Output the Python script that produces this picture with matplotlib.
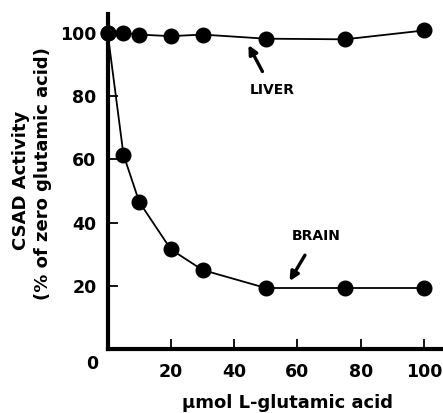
import matplotlib.pyplot as plt
import numpy as np

# umol L-glutamic acid
conc = [0, 5, 10, 20, 30, 50, 75, 100]
liver = [100, 100, 99.5, 99, 99.5, 98.2, 98, 100.8]
brain = [100, 61.5, 46.5, 31.5, 25, 19.3, 19.3, 19.3]
xticks = [20, 40, 60, 80, 100]
yticks = [20, 40, 60, 80, 100]

plt.rcParams['font.family'] = 'DejaVu Sans'
plt.rcParams['font.weight'] = 'bold'

fig = plt.figure(figsize=(4.43, 4.13), dpi=100)
ax = fig.add_axes([0.243, 0.155, 0.757, 0.811])

ax.plot(conc, liver, color='black', lw=1.3, marker='o', ms=10.5, clip_on=False, zorder=3)
ax.plot(conc, brain, color='black', lw=1.3, marker='o', ms=10.5, clip_on=False, zorder=3)

ax.set_xlim(0, 106)
ax.set_ylim(0, 106)

for s in ['top', 'right']:
    ax.spines[s].set_visible(False)
for s in ['left', 'bottom']:
    ax.spines[s].set_linewidth(3)

ax.set_xticks(xticks)
ax.set_yticks(yticks)
ax.tick_params(axis='both', direction='in', length=7, width=1.3, labelsize=12.5)
ax.tick_params(axis='x', pad=10)
ax.tick_params(axis='y', pad=8)
for lab in ax.get_xticklabels() + ax.get_yticklabels():
    lab.set_fontweight('bold')

# origin label sits off the corner
ax.text(-0.045, -0.045, '0', transform=ax.transAxes, ha='center', va='center',
        fontsize=12.5, fontweight='bold')

# labels for the two curves
ax.annotate('LIVER', xy=(44.5, 96.2), xytext=(52, 82), ha='center', va='center',
            fontsize=10, fontweight='bold',
            arrowprops=dict(arrowstyle='-|>', color='black', lw=2.4, mutation_scale=13,
                            shrinkA=7, shrinkB=0))
ax.annotate('BRAIN', xy=(57.5, 21.5), xytext=(66, 35.8), ha='center', va='center',
            fontsize=10, fontweight='bold',
            arrowprops=dict(arrowstyle='-|>', color='black', lw=2.4, mutation_scale=13,
                            shrinkA=8, shrinkB=0))

fig.text(0.65, 0.024, 'µmol L-glutamic acid', ha='center', va='center',
         fontsize=13, fontweight='bold')
fig.text(0.047, 0.564, 'CSAD Activity', rotation=90, ha='center', va='center',
         fontsize=13, fontweight='bold')
fig.text(0.097, 0.579, '(% of zero glutamic acid)', rotation=90, ha='center', va='center',
         fontsize=13, fontweight='bold')

fig.savefig('out.png', dpi=100)
